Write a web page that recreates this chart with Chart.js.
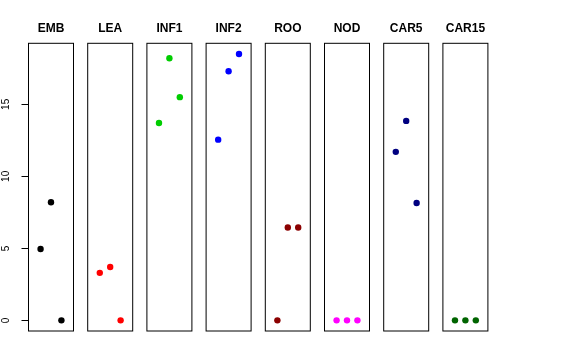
<!DOCTYPE html>
<html>
<head>
<meta charset="utf-8">
<script src="https://cdn.jsdelivr.net/npm/chart.js@4.4.1/dist/chart.umd.min.js"></script>
<style>
  html, body { margin: 0; padding: 0; background: #fff; }
  #wrap { position: relative; width: 576px; height: 360px; overflow: hidden; }
  #wrap canvas { position: absolute; top: 0; }
</style>
</head>
<body>
<div id="wrap"></div>
<script>
// Data
const tissues = ['EMB', 'LEA', 'INF1', 'INF2', 'ROO', 'NOD', 'CAR5', 'CAR15'];
const positions = [1, 2, 3];
const emb = [4.95, 8.2, 0];
const lea = [3.3, 3.7, 0];
const inf1 = [13.7, 18.2, 15.5];
const inf2 = [12.55, 17.3, 18.5];
const roo = [0, 6.45, 6.45];
const nod = [0, 0, 0];
const car5 = [11.7, 13.85, 8.15];
const car15 = [0, 0, 0];
const tissueColors = ['#000000', '#FF0000', '#00CD00', '#0000FF', '#8B0000', '#FF00FF', '#000080', '#006400'];
const yTicks = [0, 5, 10, 15];

const series = [emb, lea, inf1, inf2, roo, nod, car5, car15];

// R-style axis limits (4% extension)
const allVals = series.flat();
const yLo = Math.min(...allVals), yHi = Math.max(...allVals);
const yExt = (yHi - yLo) * 0.04;
const xLo = 0, xHi = 4, xExt = (xHi - xLo) * 0.04;

const FONT = "'Liberation Sans', Arial, Helvetica, sans-serif";
Chart.defaults.font.family = FONT;
Chart.defaults.color = '#000';

// panel geometry
const panelLeft0 = 28.5, panelStep = 59.2, panelW = 45;
const axisW = 28.5;

// frame around each panel
const framePlugin = {
  id: 'frame',
  afterDraw(chart) {
    const a = chart.chartArea, ctx = chart.ctx;
    ctx.save();
    ctx.strokeStyle = '#000';
    ctx.lineWidth = 1;
    ctx.strokeRect(a.left, a.top, a.right - a.left, a.bottom - a.top);
    ctx.restore();
  }
};

const wrap = document.getElementById('wrap');

tissues.forEach((name, i) => {
  const L = panelLeft0 + i * panelStep;
  const first = i === 0;
  const cLeft = first ? 0 : Math.floor(L) - 6;
  const cW = first ? 80 : 58;
  const padL = first ? 0 : L - cLeft;
  const padR = cW - (first ? axisW : padL) - panelW;

  const canvas = document.createElement('canvas');
  canvas.style.left = cLeft + 'px';
  canvas.style.width = cW + 'px';
  canvas.style.height = '360px';
  canvas.width = cW;
  canvas.height = 360;
  wrap.appendChild(canvas);

  const yScale = {
    type: 'linear',
    display: first,
    min: yLo - yExt,
    max: yHi + yExt,
    afterBuildTicks: (s) => { s.ticks = yTicks.map(v => ({ value: v })); },
    border: { display: false },
    grid: {
      drawOnChartArea: false,
      drawTicks: true,
      tickLength: 7,
      color: '#000',
      lineWidth: 1
    },
    ticks: {
      minRotation: 90,
      maxRotation: 90,
      crossAlign: 'center',
      padding: 9.7,
      font: { size: 10 },
      color: '#000'
    }
  };
  if (first) yScale.afterFit = (s) => { s.width = axisW; };

  new Chart(canvas, {
    type: 'scatter',
    data: {
      datasets: [{
        data: positions.map((x, j) => ({ x: x, y: series[i][j] })),
        backgroundColor: tissueColors[i],
        borderWidth: 0,
        pointRadius: 3.2,
        pointHoverRadius: 3.2
      }]
    },
    options: {
      responsive: false,
      animation: false,
      events: [],
      layout: { padding: { left: padL, right: padR, top: 0, bottom: 29 } },
      scales: {
        x: {
          type: 'linear',
          display: false,
          min: xLo - xExt,
          max: xHi + xExt
        },
        y: yScale
      },
      plugins: {
        legend: { display: false },
        tooltip: { enabled: false },
        title: {
          display: true,
          text: name,
          fullSize: false,
          font: { size: 12, weight: 'bold', lineHeight: 1.2 },
          color: '#000',
          padding: { top: 21, bottom: 7.9 }
        }
      }
    },
    plugins: [framePlugin]
  });
});
</script>
</body>
</html>
